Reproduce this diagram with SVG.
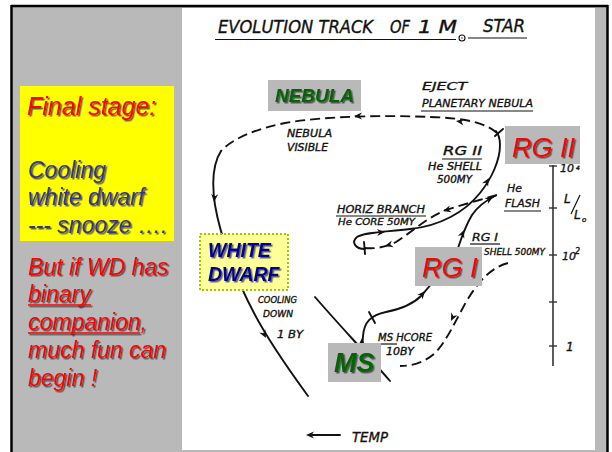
<svg xmlns="http://www.w3.org/2000/svg" xmlns:xlink="http://www.w3.org/1999/xlink" width="612" height="452" viewBox="0 0 612 452">
<defs>
<filter id="sh" x="-10%" y="-10%" width="130%" height="140%">
<feDropShadow dx="1.5" dy="1.5" stdDeviation="0.5" flood-color="#333" flood-opacity="0.75"/>
</filter>
<path id="ah" d="M0,0 L-8,-3.5 L-5.5,0 L-8,3.5 Z" fill="#111"/>
</defs>
<style>
.hw{font-family:"DejaVu Sans","Liberation Sans",sans-serif;font-style:italic;fill:#111;stroke:#111;stroke-width:0.35;}
.s{font-size:10px;}
.trk{fill:none;stroke:#111;stroke-width:1.9;stroke-linecap:round;}
.dsh{fill:none;stroke:#111;stroke-width:1.9;stroke-dasharray:10 5;}
.ul{stroke:#111;stroke-width:1.2;}
.gbox{fill:#b9b9b9;}
.lbl{font-family:"Liberation Sans",Arial,sans-serif;font-style:italic;filter:url(#sh);}
.side{font-family:"Liberation Sans",Arial,sans-serif;font-style:italic;font-size:23px;filter:url(#sh);}
</style>
<!-- frame -->
<rect x="0" y="0" width="612" height="452" fill="#ffffff"/>
<rect x="11" y="6" width="597" height="446" fill="#b9b9b9"/>
<rect x="182" y="8" width="413" height="442" fill="#ffffff"/>
<line x1="11" y1="6" x2="608" y2="6" stroke="#000" stroke-width="2.5"/>
<line x1="11.5" y1="5" x2="11.5" y2="452" stroke="#000" stroke-width="2.5"/>
<line x1="607.5" y1="5" x2="607.5" y2="452" stroke="#000" stroke-width="2.5"/>

<!-- left panel -->
<g id="final-stage">
<rect x="20" y="86" width="154" height="155" fill="#ffff00"/>
<text class="side" x="27" y="115" fill="#ff0000" style="font-size:25px">Final stage:</text>
<text class="side" x="28" y="178" fill="#333399">Cooling</text>
<text class="side" x="28" y="205" fill="#333399">white dwarf</text>
<text class="side" x="28" y="233" fill="#333399">--- snooze ….</text>
</g>
<g id="binary-note">
<text class="side" x="28" y="275" fill="#ff0000">But if WD has</text>
<text class="side" x="28" y="302" fill="#ff0000">binary</text>
<text class="side" x="28" y="330" fill="#ff0000">companion,</text>
<text class="side" x="28" y="358" fill="#ff0000">much fun can</text>
<text class="side" x="28" y="386" fill="#ff0000">begin !</text>
<g filter="url(#sh)">
<line x1="28" y1="305" x2="91" y2="305" stroke="#ff0000" stroke-width="1.6"/>
<line x1="28" y1="333" x2="140" y2="333" stroke="#ff0000" stroke-width="1.6"/>
</g>
</g>

<!-- title -->
<g id="title">
<text class="hw" x="218" y="33" font-size="17" textLength="155" lengthAdjust="spacingAndGlyphs">EVOLUTION TRACK</text>
<text class="hw" x="390" y="33" font-size="17" textLength="20" lengthAdjust="spacingAndGlyphs">OF</text>
<text class="hw" x="418" y="33" font-size="17" textLength="39" lengthAdjust="spacingAndGlyphs">1 M</text>
<circle cx="462" cy="38" r="3" fill="none" stroke="#111" stroke-width="1.1"/>
<circle cx="462" cy="38" r="0.7" fill="#111"/>
<text class="hw" x="483" y="32" font-size="17" textLength="42" lengthAdjust="spacingAndGlyphs">STAR</text>
<line class="ul" x1="215" y1="39.5" x2="456" y2="39.5" stroke-width="1.4"/>
<line class="ul" x1="468" y1="38" x2="527" y2="38" stroke-width="1.4"/>
</g>

<!-- connectors / tracks -->
<g id="connectors">
<path class="dsh" d="M497,133 C486,123 466,118 430,117 C385,115 325,116 285,123 C255,129 232,139 221,151"/>
<path class="trk" d="M221,151 C212,165 212,185 215,205 C221,240 238,283 254,313 C269,342 289,370 308,396"/>
<path class="trk" d="M315,297 C340,326 365,352 390,381"/>
<path class="trk" d="M362,350 L363,336 C364,322 371,315 386,312 C401,309 413,304 421,296 L433,282"/>
<line class="trk" x1="369" y1="312" x2="375" y2="323" stroke-width="1.3"/>
<path class="trk" d="M458,248 C462,236 466,225 472,215 C478,206 485,201 495,196"/>
<path class="dsh" d="M497,195 C480,200 461,205 446,210 C426,218 412,232 396,242 C386,247 376,249 365,248"/>
<path class="trk" d="M365,249 C355,249 351,242 357,237 C365,232 385,232 410,229 C440,226 465,212 480,193 C492,178 500,160 500,145 C500,139 499,135 496,131"/>
<line class="trk" x1="364" y1="242" x2="365" y2="254" stroke-width="1.3"/>
<line class="trk" x1="495" y1="136" x2="503" y2="129" stroke-width="1.3"/>
<path class="dsh" d="M508,263 C490,268 478,282 466,302 C455,322 446,342 435,353 C425,362 413,366 400,366"/>
<use xlink:href="#ah" transform="translate(456,121) rotate(188)"/>
<use xlink:href="#ah" transform="translate(354,116) rotate(180)"/>
<use xlink:href="#ah" transform="translate(214,202) rotate(95)"/>
<use xlink:href="#ah" transform="translate(266,338) rotate(62)"/>
<use xlink:href="#ah" transform="translate(362,338) rotate(-88)"/>
<use xlink:href="#ah" transform="translate(425,291) rotate(-50)"/>
<use xlink:href="#ah" transform="translate(464,230) rotate(-68)"/>
<use xlink:href="#ah" transform="translate(493,197) rotate(-30)"/>
<use xlink:href="#ah" transform="translate(443,211) rotate(165)"/>
<use xlink:href="#ah" transform="translate(385,246) rotate(165)"/>
<use xlink:href="#ah" transform="translate(385,232) rotate(-3)"/>
<use xlink:href="#ah" transform="translate(489,178) rotate(-60)"/>
<use xlink:href="#ah" transform="translate(451,321) rotate(115)"/>
<line class="trk" x1="340" y1="435" x2="312" y2="435" stroke-width="1.5"/>
<use xlink:href="#ah" transform="translate(306,435) rotate(180)"/>
</g>

<!-- hand-written labels -->
<g id="labels">
<text class="hw" x="422" y="90" font-size="11" textLength="45" lengthAdjust="spacingAndGlyphs">EJECT</text>
<text class="hw" x="422" y="107" font-size="11" textLength="111" lengthAdjust="spacingAndGlyphs">PLANETARY NEBULA</text>
<line class="ul" x1="421" y1="111" x2="533" y2="111"/>
<text class="hw s" x="287" y="137" textLength="45" lengthAdjust="spacingAndGlyphs">NEBULA</text>
<text class="hw s" x="287" y="151" textLength="41" lengthAdjust="spacingAndGlyphs">VISIBLE</text>
<text class="hw" x="443" y="155" font-size="12" textLength="39" lengthAdjust="spacingAndGlyphs">RG II</text>
<line class="ul" x1="442" y1="159" x2="482" y2="159"/>
<text class="hw s" x="428" y="170" textLength="54" lengthAdjust="spacingAndGlyphs">He SHELL</text>
<text class="hw s" x="437" y="183" textLength="35" lengthAdjust="spacingAndGlyphs">500MY</text>
<text class="hw" x="507" y="192" font-size="11" textLength="15" lengthAdjust="spacingAndGlyphs">He</text>
<text class="hw" x="505" y="207" font-size="11" textLength="35" lengthAdjust="spacingAndGlyphs">FLASH</text>
<line class="ul" x1="504" y1="211" x2="541" y2="211"/>
<text class="hw" x="472" y="241" font-size="11" textLength="26" lengthAdjust="spacingAndGlyphs">RG I</text>
<line class="ul" x1="470" y1="244" x2="500" y2="244"/>
<text class="hw" x="484" y="255" font-size="9" textLength="61" lengthAdjust="spacingAndGlyphs">SHELL 500MY</text>
<text class="hw s" x="337" y="213" textLength="88" lengthAdjust="spacingAndGlyphs">HORIZ BRANCH</text>
<line class="ul" x1="336" y1="216" x2="426" y2="216"/>
<text class="hw" x="338" y="225" font-size="9" textLength="77" lengthAdjust="spacingAndGlyphs">He CORE 50MY</text>
<text class="hw" x="258" y="303" font-size="9" textLength="39" lengthAdjust="spacingAndGlyphs">COOLING</text>
<text class="hw" x="263" y="317" font-size="9" textLength="30" lengthAdjust="spacingAndGlyphs">DOWN</text>
<text class="hw" x="277" y="338" font-size="10" textLength="26" lengthAdjust="spacingAndGlyphs">1 BY</text>
<text class="hw" x="378" y="341" font-size="10" textLength="54" lengthAdjust="spacingAndGlyphs">MS HCORE</text>
<line class="ul" x1="377" y1="344" x2="397" y2="344"/>
<text class="hw" x="386" y="355" font-size="10" textLength="28" lengthAdjust="spacingAndGlyphs">10BY</text>
<text class="hw" x="352" y="442" font-size="14" textLength="36" lengthAdjust="spacingAndGlyphs">TEMP</text>
</g>

<!-- luminosity axis -->
<g id="lum-axis">
<line x1="553" y1="165" x2="553" y2="366" stroke="#333" stroke-width="1.6"/>
<g stroke="#333" stroke-width="1.4">
<line x1="549" y1="166" x2="557" y2="166"/>
<line x1="549" y1="208" x2="557" y2="208"/>
<line x1="549" y1="255" x2="557" y2="255"/>
<line x1="549" y1="302" x2="557" y2="302"/>
<line x1="549" y1="346" x2="557" y2="346"/>
</g>
<text class="hw" x="560" y="172" font-size="11">10</text>
<text class="hw" x="576" y="170" font-size="6">4</text>
<text class="hw" x="564" y="203" font-size="12">L</text>
<line x1="580" y1="195" x2="571" y2="214" stroke="#111" stroke-width="1.2"/>
<text class="hw" x="574" y="219" font-size="12">L</text>
<text class="hw" x="582" y="222" font-size="7">o</text>
<text class="hw" x="562" y="260" font-size="11">10</text>
<text class="hw" x="575" y="254" font-size="8">2</text>
<text class="hw" x="566" y="351" font-size="12">1</text>
</g>

<!-- stage boxes -->
<g id="nebula">
<rect class="gbox" x="268" y="80" width="93" height="31"/>
<text class="lbl" x="275" y="102" font-size="19" font-weight="bold" fill="#006600" textLength="79" lengthAdjust="spacingAndGlyphs">NEBULA</text>
</g>
<g id="white-dwarf">
<rect x="200" y="234" width="88" height="56" fill="#ffff99" stroke="#99cc00" stroke-width="2" stroke-dasharray="2 2"/>
<text class="lbl" x="208" y="257" font-size="19.5" font-weight="bold" fill="#000099">WHITE</text>
<text class="lbl" x="208" y="281" font-size="19.5" font-weight="bold" fill="#000099">DWARF</text>
</g>
<g id="ms">
<rect class="gbox" x="328" y="343" width="53" height="39"/>
<text class="lbl" x="334" y="372" font-size="27" font-weight="bold" fill="#006600">MS</text>
</g>
<g id="rg1">
<rect class="gbox" x="415" y="247" width="67" height="39"/>
<text class="lbl" x="422" y="277" font-size="27" fill="#ff0000">RG I</text>
</g>
<g id="rg2">
<rect class="gbox" x="505" y="126" width="75" height="38"/>
<text class="lbl" x="512" y="157" font-size="27" fill="#ff0000">RG II</text>
</g>
</svg>
